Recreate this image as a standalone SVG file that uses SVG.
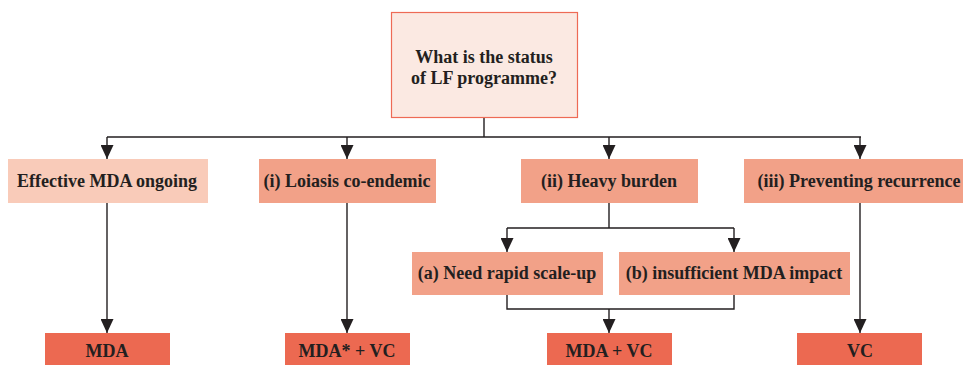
<svg xmlns="http://www.w3.org/2000/svg" width="963" height="365" viewBox="0 0 963 365">
<defs>
<style>
.t{font-family:"Liberation Serif","Times New Roman",serif;font-weight:bold;font-size:18px;fill:#231f20;text-anchor:middle}
.c{fill:none;stroke:#231f20;stroke-width:1.4}
.a{marker-end:url(#ah)}
.l0{fill:#fbe9e2;stroke:#ee6a55;stroke-width:1.2}
.l1{fill:#f9cbb9}
.l2{fill:#f2a188}
.l3{fill:#ec6951}
</style>
<marker id="ah" markerUnits="userSpaceOnUse" markerWidth="14" markerHeight="13" refX="14" refY="6.5" orient="auto" viewBox="0 0 14 13">
<path d="M0,0 L14,6.5 L0,13 Z" fill="#231f20"/>
</marker>
</defs>
<g id="connectors">
<path class="c" d="M484,117 V137 M107,137 H861"/>
<path class="c a" d="M107,137 V159"/>
<path class="c a" d="M347,137 V159"/>
<path class="c a" d="M609,137 V159"/>
<path class="c a" d="M860,137 V159"/>
<path class="c a" d="M107,203 V333"/>
<path class="c a" d="M347,203 V333"/>
<path class="c a" d="M860,203 V333"/>
<path class="c" d="M609,203 V228 M507,228 H734"/>
<path class="c a" d="M507,228 V252"/>
<path class="c a" d="M734,228 V252"/>
<path class="c" d="M507,295 V309 H734 V295"/>
<path class="c a" d="M609,309 V333"/>
</g>
<g id="root">
<rect class="l0" x="391.5" y="12.5" width="186" height="105"/>
<text class="t" x="484" y="63">What is the status</text>
<text class="t" x="484" y="84">of LF programme?</text>
</g>
<g id="effective">
<rect class="l1" x="8" y="159" width="200" height="44"/>
<text class="t" x="107" y="187">Effective MDA ongoing</text>
</g>
<g id="loiasis">
<rect class="l2" x="259" y="159" width="177" height="44"/>
<text class="t" x="347" y="187">(i) Loiasis co-endemic</text>
</g>
<g id="heavy">
<rect class="l2" x="521" y="159" width="177" height="44"/>
<text class="t" x="609" y="187">(ii) Heavy burden</text>
</g>
<g id="preventing">
<rect class="l2" x="744" y="159" width="219" height="44"/>
<text class="t" x="859" y="187">(iii) Preventing recurrence</text>
</g>
<g id="scaleup">
<rect class="l2" x="412" y="252" width="191" height="43"/>
<text class="t" x="507" y="279">(a) Need rapid scale-up</text>
</g>
<g id="insufficient">
<rect class="l2" x="619" y="252" width="231" height="43"/>
<text class="t" x="734" y="279">(b) insufficient MDA impact</text>
</g>
<g id="mda">
<rect class="l3" x="45" y="333" width="125" height="33"/>
<text class="t" x="107" y="357">MDA</text>
</g>
<g id="mdastarvc">
<rect class="l3" x="285" y="333" width="125" height="33"/>
<text class="t" x="347" y="357">MDA* + VC</text>
</g>
<g id="mdavc">
<rect class="l3" x="547" y="333" width="125" height="33"/>
<text class="t" x="609" y="357">MDA + VC</text>
</g>
<g id="vc">
<rect class="l3" x="797" y="333" width="125" height="33"/>
<text class="t" x="860" y="357">VC</text>
</g>
</svg>
